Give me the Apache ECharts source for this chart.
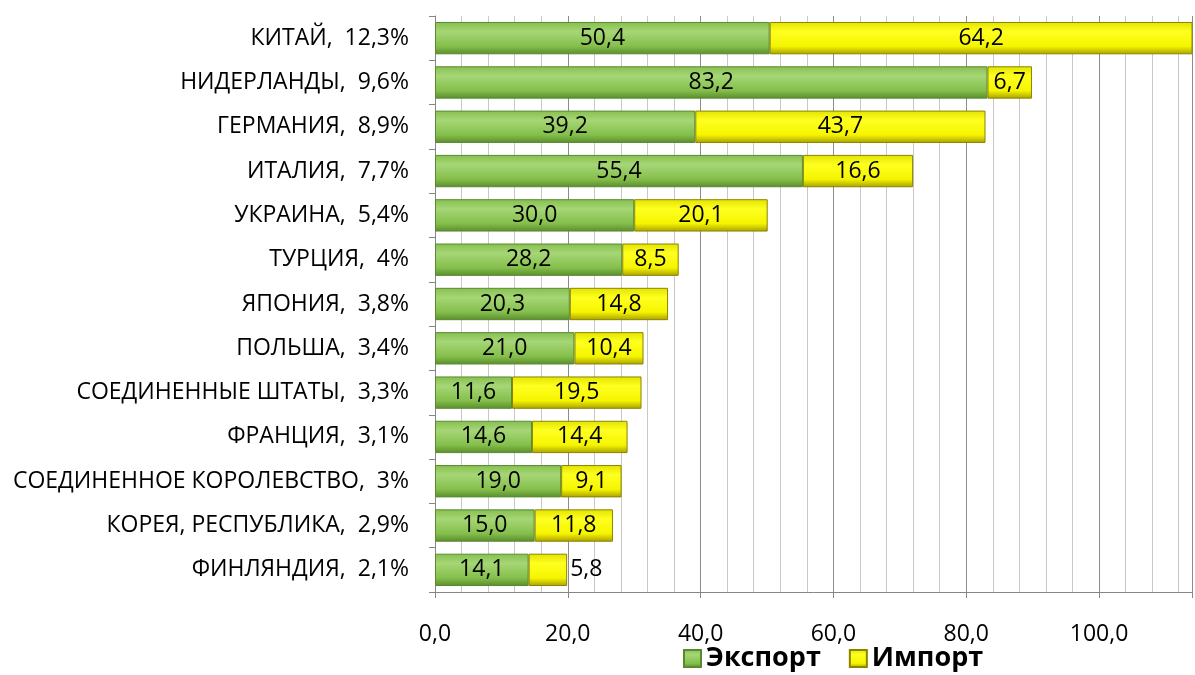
<!DOCTYPE html>
<html>
<head>
<meta charset="utf-8">
<script src="https://cdn.jsdelivr.net/npm/echarts@6/dist/echarts.min.js"></script>
<style>
  html, body { margin: 0; padding: 0; background: #fff; }
  #main { width: 1195px; height: 675px; }
</style>
</head>
<body>
<div id="main"></div>
<script>
// страны и их доля
var countries = ['КИТАЙ', 'НИДЕРЛАНДЫ', 'ГЕРМАНИЯ', 'ИТАЛИЯ', 'УКРАИНА', 'ТУРЦИЯ', 'ЯПОНИЯ',
  'ПОЛЬША', 'СОЕДИНЕННЫЕ ШТАТЫ', 'ФРАНЦИЯ', 'СОЕДИНЕННОЕ КОРОЛЕВСТВО', 'КОРЕЯ, РЕСПУБЛИКА', 'ФИНЛЯНДИЯ'];
var shares = ['12,3%', '9,6%', '8,9%', '7,7%', '5,4%', '4%', '3,8%', '3,4%', '3,3%', '3,1%', '3%', '2,9%', '2,1%'];
var exportVals = [50.4, 83.2, 39.2, 55.4, 30.0, 28.2, 20.3, 21.0, 11.6, 14.6, 19.0, 15.0, 14.1];
var importVals = [64.2, 6.7, 43.7, 16.6, 20.1, 8.5, 14.8, 10.4, 19.5, 14.4, 9.1, 11.8, 5.8];

var cats = [];
for (var i = 0; i < countries.length; i++) {
  cats[i] = countries[i] + ',  ' + shares[i];
}

function fmt(v) {
  return v.toFixed(1).replace('.', ',');
}

var font = 'Open Sans';

var greenFill = new echarts.graphic.LinearGradient(0, 0, 0, 1, [
  { offset: 0, color: '#86bf4e' },
  { offset: 0.3, color: '#a6d676' },
  { offset: 0.75, color: '#84bf4b' },
  { offset: 1, color: '#5b8c2d' }
]);
var yellowFill = new echarts.graphic.LinearGradient(0, 0, 0, 1, [
  { offset: 0, color: '#e3e300' },
  { offset: 0.3, color: '#ffff20' },
  { offset: 0.75, color: '#f5f500' },
  { offset: 1, color: '#a8a000' }
]);

// импорт: у последней полосы подпись снаружи
var importData = [];
for (var j = 0; j < importVals.length; j++) {
  var d = { value: importVals[j] };
  if (importVals[j] < 6) {
    d.label = { position: 'right', distance: 3 };
  }
  importData[j] = d;
}

var myChart = echarts.init(document.getElementById('main'));
var option = {
  animation: false,
  textStyle: { fontFamily: font },
  grid: { left: 435, right: 0, top: 16, bottom: 83, containLabel: false },
  legend: {
    top: 645,
    left: 683,
    padding: 0,
    icon: 'rect',
    itemWidth: 17,
    itemHeight: 17,
    itemGap: 28,
    textStyle: { fontSize: 27, fontWeight: 'bold', color: '#000', fontFamily: font },
    data: ['Экспорт', 'Импорт']
  },
  xAxis: {
    type: 'value',
    min: 0,
    max: 114,
    interval: 20,
    axisLine: { show: true, lineStyle: { color: '#868686' } },
    axisTick: { show: true, length: 6, lineStyle: { color: '#868686' } },
    axisLabel: {
      fontSize: 23, color: '#000', margin: 31,
      formatter: function (v) { return v % 20 === 0 ? fmt(v) : ''; }
    },
    splitLine: { show: true, lineStyle: { color: '#8c8c8c', width: 1 } },
    minorTick: { show: false, splitNumber: 5 },
    minorSplitLine: { show: true, lineStyle: { color: '#c8c8c8', width: 1 } }
  },
  yAxis: {
    type: 'category',
    inverse: true,
    data: cats,
    axisLine: { show: true, lineStyle: { color: '#868686' } },
    axisTick: { show: true, length: 6, lineStyle: { color: '#868686' } },
    axisLabel: { fontSize: 23, color: '#000', margin: 26 }
  },
  series: [
    {
      name: 'Экспорт',
      type: 'bar',
      stack: 'total',
      barCategoryGap: '27%',
      data: exportVals,
      itemStyle: { color: greenFill, borderColor: '#5a8a30', borderWidth: 1 },
      label: {
        show: true, position: 'inside', color: '#000', fontSize: 23,
        formatter: function (p) { return fmt(p.value); }
      }
    },
    {
      name: 'Импорт',
      type: 'bar',
      stack: 'total',
      data: importData,
      itemStyle: { color: yellowFill, borderColor: '#8a8400', borderWidth: 1 },
      label: {
        show: true, position: 'inside', color: '#000', fontSize: 23,
        formatter: function (p) { return fmt(p.value); }
      }
    }
  ]
};
myChart.setOption(option);
</script>
</body>
</html>
